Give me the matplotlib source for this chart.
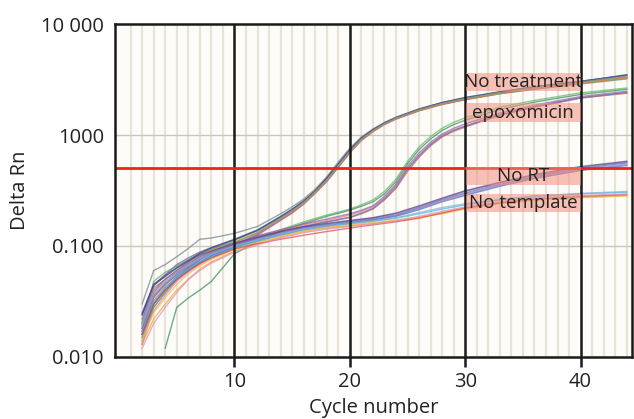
import numpy as np
import matplotlib
matplotlib.use('Agg')
import matplotlib.pyplot as plt
from matplotlib.patches import Rectangle

plt.rcParams['font.family'] = ['Open Sans', 'DejaVu Sans']

nt_cycles = [2, 3, 4, 5, 6, 7, 8, 10, 12, 14, 15, 16, 17, 18, 19, 20, 21, 22, 23, 24, 26, 28, 30, 33, 36, 40, 44]
epo_cycles = [2, 3, 4, 5, 6, 7, 8, 10, 12, 14, 16, 18, 20, 21, 22, 23, 24, 25, 26, 27, 28, 29, 30, 33, 36, 40, 44]
low_cycles = [2, 3, 4, 5, 6, 7, 8, 10, 12, 14, 16, 18, 20, 22, 24, 26, 28, 30, 33, 36, 40, 44]

# No treatment
no_treatment = [
    [0.030, 0.060, 0.068, 0.080, 0.095, 0.115, 0.118, 0.130, 0.150, 0.195, 0.225, 0.265, 0.325, 0.42, 0.57, 0.76, 0.96, 1.13, 1.30, 1.45, 1.72, 1.96, 2.18, 2.45, 2.72, 3.05, 3.45],
    [0.025, 0.045, 0.055, 0.068, 0.078, 0.088, 0.097, 0.115, 0.140, 0.185, 0.215, 0.255, 0.315, 0.41, 0.55, 0.74, 0.94, 1.12, 1.28, 1.43, 1.70, 1.95, 2.15, 2.42, 2.70, 3.02, 3.50],
    [0.018, 0.038, 0.050, 0.060, 0.072, 0.084, 0.094, 0.108, 0.130, 0.175, 0.205, 0.245, 0.305, 0.39, 0.52, 0.70, 0.90, 1.08, 1.25, 1.40, 1.66, 1.90, 2.10, 2.38, 2.62, 2.95, 3.30],
    [0.015, 0.030, 0.040, 0.052, 0.063, 0.075, 0.085, 0.102, 0.128, 0.172, 0.200, 0.240, 0.300, 0.385, 0.52, 0.71, 0.91, 1.09, 1.26, 1.41, 1.68, 1.92, 2.12, 2.40, 2.66, 2.98, 3.35],
    [0.020, 0.048, 0.058, 0.066, 0.075, 0.085, 0.093, 0.112, 0.138, 0.180, 0.210, 0.250, 0.310, 0.40, 0.53, 0.72, 0.93, 1.10, 1.27, 1.42, 1.67, 1.90, 2.08, 2.35, 2.58, 2.88, 3.20],
    [0.024, 0.044, 0.054, 0.064, 0.074, 0.086, 0.096, 0.114, 0.138, 0.183, 0.213, 0.253, 0.313, 0.405, 0.545, 0.73, 0.93, 1.11, 1.28, 1.43, 1.71, 1.96, 2.17, 2.45, 2.72, 3.05, 3.45],
    [0.013, 0.028, 0.038, 0.050, 0.060, 0.070, 0.082, 0.100, 0.125, 0.170, 0.198, 0.238, 0.298, 0.38, 0.51, 0.69, 0.89, 1.07, 1.24, 1.39, 1.65, 1.88, 2.08, 2.36, 2.60, 2.92, 3.25],
    [0.016, 0.032, 0.044, 0.056, 0.068, 0.080, 0.090, 0.106, 0.132, 0.176, 0.205, 0.243, 0.302, 0.39, 0.525, 0.705, 0.905, 1.085, 1.255, 1.405, 1.67, 1.91, 2.11, 2.38, 2.63, 2.94, 3.30],
    [0.021, 0.040, 0.050, 0.060, 0.070, 0.080, 0.090, 0.108, 0.133, 0.178, 0.208, 0.248, 0.308, 0.395, 0.53, 0.715, 0.915, 1.095, 1.265, 1.415, 1.69, 1.93, 2.14, 2.42, 2.68, 3.00, 3.40],
]
nt_colors = ['#6f7f8f', '#6a4c9c', '#d9534f', '#3a8fb7', '#4caf50', '#2c3e8c', '#c0508a', '#e69a2e', '#7f9f7f']

# epoxomicin
epoxomicin = [
    [0.014, 0.028, 0.038, 0.050, 0.060, 0.070, 0.080, 0.098, 0.118, 0.140, 0.165, 0.190, 0.215, 0.235, 0.26, 0.31, 0.40, 0.58, 0.78, 0.97, 1.15, 1.30, 1.43, 1.78, 2.05, 2.40, 2.65],
    [np.nan, np.nan, 0.012, 0.028, 0.034, 0.040, 0.048, 0.085, 0.110, 0.135, 0.160, 0.185, 0.210, 0.228, 0.25, 0.295, 0.38, 0.55, 0.74, 0.92, 1.10, 1.24, 1.36, 1.70, 1.98, 2.32, 2.58],
    [0.017, 0.034, 0.046, 0.056, 0.066, 0.076, 0.086, 0.100, 0.120, 0.135, 0.150, 0.165, 0.180, 0.195, 0.215, 0.26, 0.33, 0.47, 0.63, 0.80, 0.96, 1.08, 1.18, 1.50, 1.78, 2.15, 2.38],
    [0.020, 0.040, 0.050, 0.058, 0.068, 0.078, 0.088, 0.104, 0.122, 0.138, 0.155, 0.170, 0.190, 0.205, 0.225, 0.27, 0.35, 0.50, 0.66, 0.83, 0.99, 1.11, 1.21, 1.53, 1.80, 2.17, 2.40],
    [0.016, 0.030, 0.042, 0.053, 0.063, 0.072, 0.082, 0.100, 0.118, 0.135, 0.150, 0.165, 0.182, 0.198, 0.218, 0.265, 0.34, 0.49, 0.65, 0.82, 0.98, 1.10, 1.20, 1.52, 1.80, 2.16, 2.42],
    [0.019, 0.036, 0.046, 0.056, 0.066, 0.076, 0.086, 0.104, 0.124, 0.140, 0.158, 0.175, 0.195, 0.210, 0.23, 0.28, 0.36, 0.52, 0.69, 0.86, 1.02, 1.15, 1.26, 1.58, 1.86, 2.22, 2.48],
]
epo_colors = ['#5cb85c', '#2e8b57', '#e0524a', '#f07860', '#4a78c8', '#8e5aa8']

# No RT
no_rt = [
    [0.018, 0.035, 0.045, 0.055, 0.065, 0.075, 0.085, 0.100, 0.115, 0.130, 0.145, 0.155, 0.165, 0.175, 0.190, 0.220, 0.260, 0.300, 0.360, 0.420, 0.500, 0.560],
    [0.022, 0.042, 0.050, 0.060, 0.070, 0.080, 0.088, 0.104, 0.118, 0.133, 0.147, 0.158, 0.168, 0.178, 0.195, 0.225, 0.265, 0.310, 0.370, 0.430, 0.510, 0.570],
    [0.015, 0.026, 0.036, 0.048, 0.058, 0.068, 0.078, 0.095, 0.110, 0.125, 0.140, 0.150, 0.160, 0.170, 0.185, 0.215, 0.255, 0.290, 0.350, 0.410, 0.480, 0.540],
    [0.020, 0.038, 0.048, 0.058, 0.068, 0.078, 0.086, 0.100, 0.114, 0.128, 0.142, 0.152, 0.163, 0.173, 0.188, 0.218, 0.258, 0.295, 0.355, 0.415, 0.490, 0.550],
    [0.016, 0.030, 0.040, 0.050, 0.060, 0.070, 0.080, 0.097, 0.112, 0.127, 0.140, 0.152, 0.162, 0.172, 0.186, 0.212, 0.250, 0.285, 0.345, 0.405, 0.480, 0.530],
    [0.024, 0.045, 0.053, 0.063, 0.073, 0.083, 0.090, 0.106, 0.120, 0.135, 0.149, 0.160, 0.170, 0.180, 0.198, 0.230, 0.270, 0.315, 0.375, 0.440, 0.520, 0.580],
]
rt_colors = ['#7b5ea7', '#6c7fa8', '#d77fb3', '#a58fd0', '#4f7fc9', '#5a3f8f']

# No template
no_template = [
    [0.013, 0.022, 0.030, 0.040, 0.050, 0.062, 0.072, 0.090, 0.105, 0.120, 0.135, 0.145, 0.152, 0.160, 0.168, 0.180, 0.200, 0.220, 0.245, 0.262, 0.275, 0.285],
    [0.017, 0.032, 0.042, 0.052, 0.062, 0.072, 0.080, 0.096, 0.110, 0.125, 0.140, 0.150, 0.158, 0.167, 0.178, 0.195, 0.215, 0.235, 0.260, 0.280, 0.295, 0.305],
    [0.014, 0.025, 0.034, 0.045, 0.056, 0.066, 0.076, 0.093, 0.108, 0.122, 0.137, 0.147, 0.155, 0.163, 0.172, 0.182, 0.195, 0.215, 0.240, 0.258, 0.272, 0.282],
    [0.016, 0.030, 0.040, 0.050, 0.060, 0.070, 0.078, 0.094, 0.105, 0.115, 0.125, 0.135, 0.145, 0.155, 0.165, 0.178, 0.198, 0.220, 0.245, 0.265, 0.280, 0.290],
    [0.019, 0.036, 0.046, 0.056, 0.066, 0.076, 0.084, 0.100, 0.113, 0.128, 0.142, 0.152, 0.160, 0.168, 0.180, 0.200, 0.222, 0.240, 0.262, 0.282, 0.298, 0.310],
    [0.012, 0.020, 0.028, 0.038, 0.050, 0.060, 0.070, 0.088, 0.102, 0.118, 0.132, 0.142, 0.150, 0.158, 0.168, 0.185, 0.205, 0.225, 0.250, 0.270, 0.285, 0.295],
]
tmpl_colors = ['#f0a030', '#40b8d8', '#e8c040', '#e04848', '#7fb0e0', '#e088c0']

threshold = 0.5
x_ticks = [10, 20, 30, 40]
y_ticks = [0.01, 0.1, 1, 10]
y_tick_labels = ['0.010', '0.100', '1000', '10 000']
group_labels = ['No treatment', 'epoxomicin', 'No RT', 'No template']
# label boxes: (y bottom, y top) in data units
label_boxes = [(2.49, 3.62), (1.31, 1.94), (0.355, 0.515), (0.202, 0.294)]

fig = plt.figure(figsize=(6.34, 4.19), dpi=100)
ax = fig.add_axes([0.1814, 0.148, 0.8154, 0.7947])
ax.set_facecolor('#fdfcf8')
ax.set_yscale('log')
ax.set_xlim(-0.35, 44.45)
ax.set_ylim(0.01, 10)

# light grid: every cycle, and each decade
for c in range(1, 45):
    if c % 10:
        ax.axvline(c, color='#e8e3da', lw=1.6, zorder=0)
for v in y_ticks[1:-1]:
    ax.axhline(v, color='#cdc5b8', lw=1, zorder=0.5)

for vals, col in zip(no_treatment, nt_colors):
    ax.plot(nt_cycles, vals, color=col, lw=1, alpha=0.7, zorder=2)
for vals, col in zip(epoxomicin, epo_colors):
    ax.plot(epo_cycles, vals, color=col, lw=1, alpha=0.7, zorder=2)
for vals, col in zip(no_rt, rt_colors):
    ax.plot(low_cycles, vals, color=col, lw=1, alpha=0.7, zorder=2)
for vals, col in zip(no_template, tmpl_colors):
    ax.plot(low_cycles, vals, color=col, lw=1, alpha=0.7, zorder=2)

for c in x_ticks:
    ax.axvline(c, color='#1a1a1a', lw=1.8, zorder=3)
ax.axhline(threshold, color='#f02020', lw=2, zorder=3.5)

for lab, (y0, y1) in zip(group_labels, label_boxes):
    ax.add_patch(Rectangle((30.05, y0), 9.95, y1 - y0, facecolor='#f29080',
                           edgecolor='none', alpha=0.55, zorder=4))
    ax.text(35, np.sqrt(y0 * y1), lab, ha='center', va='center',
            fontsize=13.5, color='#222222', zorder=5)

ax.set_xticks(x_ticks)
ax.set_yticks(y_ticks)
ax.set_yticklabels(y_tick_labels)
ax.minorticks_off()
ax.tick_params(axis='x', length=7, width=1.8, color='#1a1a1a', pad=4, labelsize=14.5, labelcolor='#222222')
ax.tick_params(axis='y', length=0, pad=8, labelsize=14.5, labelcolor='#222222')
for s in ax.spines.values():
    s.set_color('#1a1a1a')
    s.set_linewidth(1.8)
    s.set_zorder(6)

ax.set_xlabel('Cycle number', fontsize=14.5, color='#222222', labelpad=4)
ax.set_ylabel('Delta Rn', fontsize=14.5, color='#222222', labelpad=8)

fig.savefig('out.png', dpi=100)
